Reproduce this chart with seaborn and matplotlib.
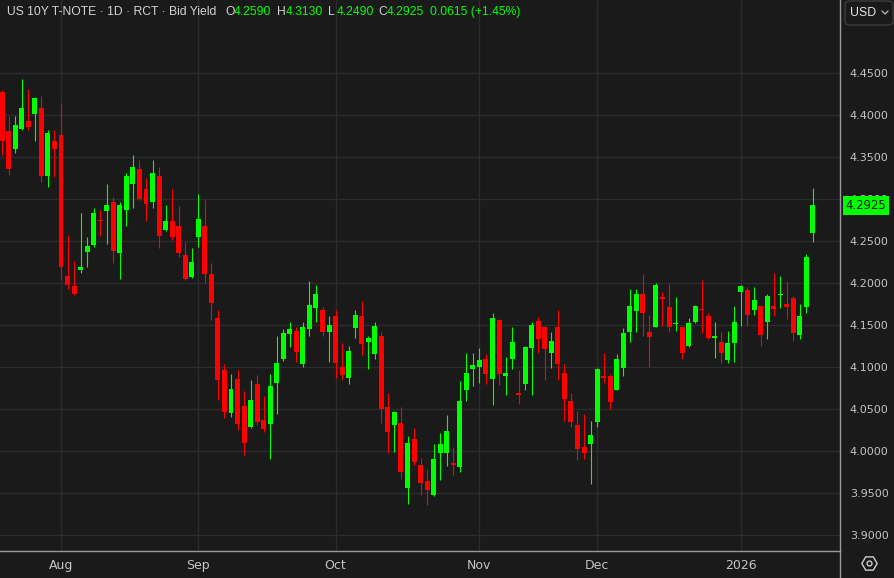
import numpy as np
import pandas as pd
import matplotlib
matplotlib.use('Agg')
import matplotlib.pyplot as plt
from matplotlib.lines import Line2D
from matplotlib.patches import FancyBboxPatch
import seaborn as sns

# Daily bars, US 10Y yield, Jul 21 2025 - Jan 20 2026 (bond market holidays skipped)
first_day = '2025-07-21'
last_day = '2026-01-20'
holidays = ['2025-09-01', '2025-10-13', '2025-11-11', '2025-11-27',
            '2025-12-25', '2026-01-01', '2026-01-19']

opens = [4.427, 4.381, 4.359, 4.383, 4.393, 4.401, 4.408, 4.327, 4.369, 4.376,
         4.208, 4.196, 4.215, 4.237, 4.245, 4.275, 4.286, 4.296, 4.236, 4.287,
         4.318, 4.335, 4.312, 4.296, 4.327, 4.263, 4.273, 4.268, 4.233, 4.207,
         4.254, 4.268, 4.211, 4.158, 4.096, 4.045, 4.086, 4.054, 4.029, 4.080,
         4.037, 4.032, 4.081, 4.110, 4.139, 4.143, 4.104, 4.145, 4.170, 4.168,
         4.142, 4.161, 4.100, 4.087, 4.146, 4.161, 4.130, 4.115, 4.137, 4.052,
         4.031, 4.033, 3.956, 4.014, 3.983, 3.964, 3.948, 3.997, 3.997, 3.986,
         3.981, 4.073, 4.098, 4.100, 4.110, 4.086, 4.156, 4.089, 4.110, 4.069,
         4.080, 4.123, 4.155, 4.147, 4.117, 4.147, 4.093, 4.060, 4.031, 4.005,
         4.008, 4.034, 4.089, 4.089, 4.073, 4.099, 4.142, 4.166, 4.187, 4.142,
         4.147, 4.183, 4.171, 4.151, 4.148, 4.125, 4.153, 4.169, 4.160, 4.134,
         4.130, 4.108, 4.129, 4.189, 4.192, 4.168, 4.172, 4.153, 4.172, 4.185,
         4.175, 4.182, 4.138, 4.171, 4.259]

highs = [4.429, 4.398, 4.398, 4.443, 4.431, 4.421, 4.422, 4.382, 4.382, 4.414,
         4.257, 4.226, 4.283, 4.255, 4.289, 4.287, 4.318, 4.302, 4.296, 4.331,
         4.352, 4.346, 4.325, 4.346, 4.338, 4.293, 4.312, 4.291, 4.249, 4.241,
         4.306, 4.298, 4.224, 4.168, 4.104, 4.092, 4.096, 4.071, 4.084, 4.090,
         4.065, 4.092, 4.137, 4.145, 4.153, 4.148, 4.153, 4.202, 4.198, 4.171,
         4.161, 4.168, 4.128, 4.125, 4.168, 4.178, 4.137, 4.153, 4.141, 4.069,
         4.048, 4.052, 4.018, 4.027, 3.992, 3.979, 4.008, 4.021, 4.043, 4.005,
         4.083, 4.117, 4.117, 4.123, 4.115, 4.164, 4.157, 4.112, 4.148, 4.096,
         4.125, 4.153, 4.159, 4.149, 4.142, 4.168, 4.103, 4.069, 4.047, 4.044,
         4.036, 4.099, 4.117, 4.091, 4.115, 4.146, 4.193, 4.193, 4.210, 4.162,
         4.200, 4.189, 4.199, 4.183, 4.148, 4.158, 4.174, 4.203, 4.164, 4.154,
         4.142, 4.143, 4.172, 4.198, 4.195, 4.195, 4.172, 4.187, 4.212, 4.208,
         4.202, 4.184, 4.175, 4.234, 4.313]

lows = [4.352, 4.328, 4.355, 4.382, 4.382, 4.369, 4.320, 4.314, 4.326, 4.203,
        4.193, 4.186, 4.212, 4.219, 4.243, 4.256, 4.246, 4.224, 4.204, 4.268,
        4.289, 4.298, 4.274, 4.289, 4.242, 4.262, 4.251, 4.231, 4.203, 4.206,
        4.243, 4.200, 4.156, 4.061, 4.039, 4.041, 4.025, 3.995, 4.027, 4.031,
        4.023, 3.991, 4.044, 4.107, 4.124, 4.106, 4.100, 4.137, 4.153, 4.137,
        4.106, 4.087, 4.084, 4.080, 4.134, 4.114, 4.097, 4.109, 4.033, 3.998,
        3.999, 3.967, 3.937, 3.983, 3.948, 3.936, 3.946, 3.965, 3.982, 3.971,
        3.975, 4.059, 4.077, 4.081, 4.080, 4.055, 4.078, 4.067, 4.097, 4.056,
        4.072, 4.066, 4.116, 4.085, 4.099, 4.085, 4.036, 4.028, 3.989, 3.991,
        3.961, 4.028, 4.081, 4.050, 4.072, 4.089, 4.130, 4.142, 4.137, 4.100,
        4.147, 4.149, 4.142, 4.143, 4.109, 4.124, 4.152, 4.140, 4.133, 4.111,
        4.105, 4.105, 4.106, 4.149, 4.149, 4.162, 4.125, 4.133, 4.160, 4.170,
        4.157, 4.131, 4.133, 4.164, 4.249]

closes = [4.369, 4.335, 4.388, 4.408, 4.386, 4.420, 4.327, 4.378, 4.359, 4.219,
          4.197, 4.187, 4.219, 4.244, 4.283, 4.273, 4.293, 4.238, 4.293, 4.327,
          4.338, 4.300, 4.294, 4.331, 4.256, 4.274, 4.254, 4.236, 4.205, 4.225,
          4.276, 4.210, 4.176, 4.085, 4.046, 4.074, 4.032, 4.010, 4.061, 4.034,
          4.026, 4.077, 4.105, 4.140, 4.145, 4.118, 4.148, 4.174, 4.187, 4.141,
          4.150, 4.105, 4.090, 4.119, 4.162, 4.127, 4.134, 4.149, 4.050, 4.022,
          4.046, 3.975, 4.010, 3.987, 3.962, 3.953, 3.990, 4.008, 4.024, 3.983,
          4.059, 4.093, 4.102, 4.108, 4.091, 4.158, 4.092, 4.093, 4.130, 4.066,
          4.124, 4.150, 4.133, 4.121, 4.131, 4.104, 4.062, 4.035, 4.002, 3.997,
          4.019, 4.097, 4.087, 4.058, 4.109, 4.140, 4.173, 4.187, 4.164, 4.136,
          4.197, 4.181, 4.148, 4.152, 4.116, 4.152, 4.172, 4.168, 4.134, 4.137,
          4.116, 4.129, 4.154, 4.196, 4.162, 4.180, 4.138, 4.184, 4.169, 4.187,
          4.171, 4.140, 4.161, 4.231, 4.2925]

title = 'US 10Y T-NOTE \u00b7 1D \u00b7 RCT \u00b7 Bid Yield'
change_text = '0.0615 (+1.45%)'

BG = '#1a1a1a'
GRID = '#2c2c2c'
UP = '#00ff00'
DOWN = '#ff0000'
TXT = '#c4c4c4'

days = pd.bdate_range(first_day, last_day, freq='C', holidays=holidays)
df = pd.DataFrame({'date': days, 'open': opens, 'high': highs,
                   'low': lows, 'close': closes})
df['x'] = np.arange(len(df))
df['up'] = df['close'] >= df['open']
df['color'] = np.where(df['up'], UP, DOWN)
df['body_low'] = df[['open', 'close']].min(axis=1)
df['body_h'] = (df['close'] - df['open']).abs().clip(lower=0.0014)

# month boundaries for the x axis
new_month = df['date'].dt.month.ne(df['date'].dt.month.shift())
new_month.iloc[0] = False
tick_pos = df.loc[new_month, 'x'].to_numpy()
tick_lab = [str(d.year) if d.month == 1 else d.strftime('%b')
            for d in df.loc[new_month, 'date']]

sns.set_theme(style='dark', rc={
    'axes.facecolor': BG,
    'figure.facecolor': BG,
    'grid.color': GRID,
    'axes.edgecolor': '#9a9a9a',
})

W, H = 895, 578
fig = plt.figure(figsize=(W / 100, H / 100), dpi=100)
ax = fig.add_axes([0, 27 / H, 840 / W, 551 / H])


def fx(px):
    return px / W


def fy(py):
    return 1 - py / H


# candles
ax.vlines(df['x'], df['low'], df['high'], colors=df['color'], linewidth=0.8, zorder=3)
ax.bar(df['x'], df['body_h'], bottom=df['body_low'], width=0.76,
       color=df['color'], linewidth=0, zorder=4)

ax.set_xlim(-0.33, 128.15)
ax.set_ylim(3.881, 4.5365)

yt = np.round(np.arange(3.90, 4.4501, 0.05), 2)
ax.set_yticks(yt)
ax.set_yticklabels([f'{v:.4f}' for v in yt])
ax.yaxis.tick_right()
ax.set_xticks(tick_pos)
ax.set_xticklabels(tick_lab)
ax.tick_params(axis='y', length=0, pad=7, labelsize=8.0, labelcolor=TXT)
ax.tick_params(axis='x', length=0, pad=6, labelsize=9, labelcolor=TXT)
for lab in ax.get_xticklabels():
    lab.set_fontfamily(['DejaVu Sans Condensed', 'Liberation Sans Narrow', 'DejaVu Sans'])
ax.grid(True, color=GRID, linewidth=1)
ax.set_axisbelow(True)

sns.despine(ax=ax, left=True, top=True, right=False, bottom=False)
ax.spines['right'].set_color('#9a9a9a')
ax.spines['bottom'].set_color('#9a9a9a')
ax.spines['right'].set_linewidth(1)
ax.spines['bottom'].set_linewidth(1)

# right spine carries on through the date strip
fig.add_artist(Line2D([fx(840.5)] * 2, [0, fy(551)], color='#9a9a9a', linewidth=1))

# last price tag (sits over the 4.3000 label, as in the source)
last = df['close'].iloc[-1]
ax.annotate(f'{last:.4f}', xy=(1.0, last), xycoords=('axes fraction', 'data'),
            xytext=(4, 0), textcoords='offset points', ha='left', va='center',
            fontsize=8.4, color='#111111', annotation_clip=False, zorder=10,
            bbox=dict(boxstyle='square,pad=0.25', fc=UP, ec='none'))

# header line
hy = fy(12)
hfont = ['Liberation Sans', 'DejaVu Sans']
fig.text(fx(7), hy, title, color='#d2d2d2', fontsize=8.7, va='center', family=hfont)
o, h, l, c = df[['open', 'high', 'low', 'close']].iloc[-1]
pieces = [(225, 'O', '#d2d2d2'), (234, f'{o:.4f}', UP),
          (277, 'H', '#d2d2d2'), (286, f'{h:.4f}', UP),
          (328, 'L', '#d2d2d2'), (337, f'{l:.4f}', UP),
          (378, 'C', '#d2d2d2'), (387, f'{c:.4f}', UP),
          (430, change_text, UP)]
for px, s, col in pieces:
    fig.text(fx(px), hy, s, color=col, fontsize=8.7, va='center', family=hfont)

# currency box, top right
fig.add_artist(FancyBboxPatch((fx(845), fy(25)), fx(48), 24 / H,
                              boxstyle='round,pad=0,rounding_size=0.006',
                              transform=fig.transFigure, fc=BG, ec='#3c3c3c', lw=1))
fig.text(fx(850), fy(13), 'USD', color='#e6e6e6', fontsize=8.8, va='center', family=hfont)
fig.add_artist(Line2D([fx(882), fx(885), fx(888)], [fy(11), fy(14), fy(11)],
                      color='#bbbbbb', linewidth=0.9))

# settings icon, bottom right
fig.add_artist(Line2D([fx(869)], [fy(563)], marker='H', markersize=11, mfc='none',
                      mec='#cfcfcf', mew=1.0, linestyle='none'))
fig.add_artist(Line2D([fx(869)], [fy(563)], marker='o', markersize=3.5, mfc='none',
                      mec='#cfcfcf', mew=1.0, linestyle='none'))

fig.savefig('out.png', dpi=100, facecolor=BG)
